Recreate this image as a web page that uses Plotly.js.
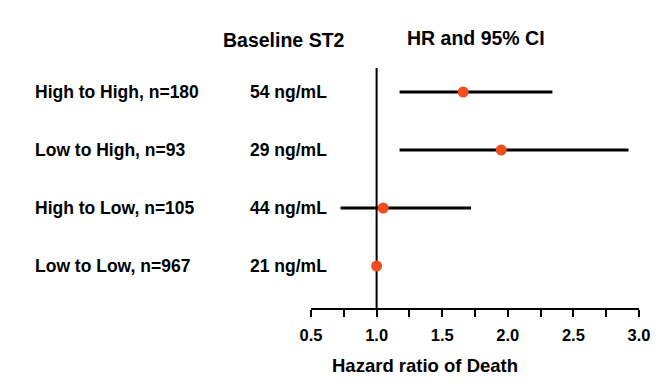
<!DOCTYPE html>
<html>
<head>
<meta charset="utf-8">
<script src="https://cdn.plot.ly/plotly-3.0.1.min.js"></script>
<style>html,body{margin:0;padding:0;background:#fff;}#chart{width:670px;height:387px;}</style>
</head>
<body>
<div id="chart"></div>
<script>
// Data
const groups = ["High to High, n=180", "Low to High, n=93", "High to Low, n=105", "Low to Low, n=967"];
const baselineST2 = ["54 ng/mL", "29 ng/mL", "44 ng/mL", "21 ng/mL"];
const hr = [1.66, 1.95, 1.05, 1.0];
const ciLower = [1.175, 1.175, 0.725, 1.0];
const ciUpper = [2.34, 2.92, 1.72, 1.0];
const xTicks = [0.5, 1.0, 1.5, 2.0, 2.5, 3.0];
const xTickText = ["0.5", "1.0", "1.5", "2.0", "2.5", "3.0"];

const FONT = "Liberation Sans, Arial, Helvetica, sans-serif";
const rowY = groups.map((g, i) => groups.length - i);

const trace = {
  type: "scatter",
  mode: "markers",
  x: hr,
  y: rowY,
  marker: {color: "#F04E1E", size: 11},
  error_x: {
    type: "data",
    symmetric: false,
    array: hr.map((v, i) => ciUpper[i] - v),
    arrayminus: hr.map((v, i) => v - ciLower[i]),
    color: "#000",
    thickness: 3,
    width: 0
  },
  hoverinfo: "skip",
  cliponaxis: false
};

// pixel helpers for layout (plot area: x 311..639, y 68..308)
const L = 311, R = 31, T = 68, B = 79;
const pw = 670 - L - R, ph = 387 - T - B;
const px = p => (p - L) / pw;
const py = p => (387 - B - p) / ph;

const annotations = [];
groups.forEach((g, i) => {
  annotations.push({text: g, xref: "paper", yref: "y", x: px(33), y: rowY[i], xanchor: "left", yanchor: "middle",
    showarrow: false, font: {family: FONT, size: 17.5, color: "#000", weight: "bold"}});
  annotations.push({text: baselineST2[i], xref: "paper", yref: "y", x: px(248), y: rowY[i], xanchor: "left", yanchor: "middle",
    showarrow: false, font: {family: FONT, size: 17.5, color: "#000", weight: "bold"}});
});
annotations.push({text: "Baseline ST2", xref: "paper", yref: "paper", x: px(284), y: py(40), xanchor: "center", yanchor: "middle",
  showarrow: false, font: {family: FONT, size: 19.5, color: "#000", weight: "bold"}});
annotations.push({text: "HR and 95% CI", xref: "paper", yref: "paper", x: px(476), y: py(38), xanchor: "center", yanchor: "middle",
  showarrow: false, font: {family: FONT, size: 19.5, color: "#000", weight: "bold"}});
annotations.push({text: "Hazard ratio of Death", xref: "paper", yref: "paper", x: px(424.5), y: py(365), xanchor: "center", yanchor: "middle",
  showarrow: false, font: {family: FONT, size: 18.5, color: "#000", weight: "bold"}});

const layout = {
  width: 670, height: 387,
  margin: {l: L, r: R, t: T, b: B, pad: 0},
  paper_bgcolor: "#fff", plot_bgcolor: "#fff",
  showlegend: false,
  xaxis: {
    range: [0.5, 3.0],
    tickvals: xTicks, ticktext: xTickText,
    ticks: "outside", ticklen: 7, tickwidth: 2, tickcolor: "#000",
    ticklabelstandoff: 4,
    minor: {tickvals: [0.75, 1.25, 1.75, 2.25, 2.75], ticks: "outside", ticklen: 7, tickwidth: 2, tickcolor: "#000", showgrid: false},
    showline: true, linewidth: 2, linecolor: "#000",
    showgrid: false, zeroline: false,
    tickfont: {family: FONT, size: 16.5, color: "#000", weight: "bold"},
    fixedrange: true
  },
  yaxis: {
    range: [0.276, 4.414],
    visible: false, showgrid: false, zeroline: false, fixedrange: true
  },
  shapes: [{type: "line", xref: "x", yref: "paper", x0: 1.0, x1: 1.0, y0: 0, y1: 1, line: {color: "#000", width: 2}, layer: "below"}],
  annotations: annotations
};

Plotly.newPlot("chart", [trace], layout, {staticPlot: true, displayModeBar: false});
</script>
</body>
</html>
